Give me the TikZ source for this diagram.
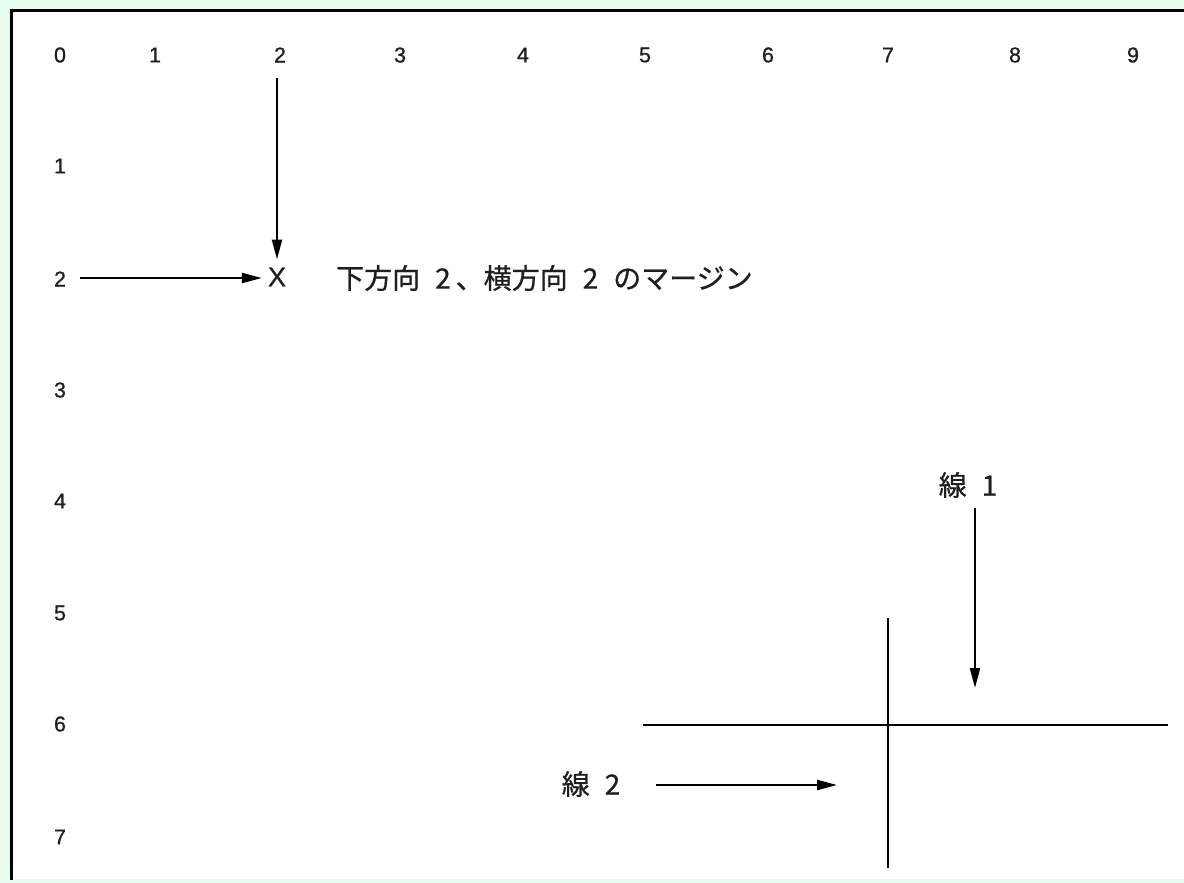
\documentclass[tikz,border=0pt]{standalone}
\usepackage{fontspec}
\setmainfont{Liberation Sans}
\newfontfamily\lblfont[FakeBold=0.8]{Liberation Sans}
\newfontfamily\jp[FakeBold=0.7]{Noto Sans CJK JP}
\usetikzlibrary{arrows.meta}
\definecolor{bggreen}{HTML}{E6FBEE}
\tikzset{
  lbl/.style={font=\lblfont\fontsize{21.5}{21.5}\selectfont, inner sep=0pt, text=black!88},
  jtxt/.style={font=\jp\fontsize{28}{28}\selectfont, inner sep=0pt, text=black!88},
  arr/.style={line width=2.3pt, -{Triangle[length=20pt,width=10pt]}},
  ln/.style={line width=2.3pt},
}
\newcommand{\gp}{\hspace{15pt}}
\begin{document}
\begin{tikzpicture}[x=1pt,y=-1pt]
\useasboundingbox (0,0) rectangle (1184,883);
\fill[bggreen] (0,0) rectangle (1184,883);
\fill[white] (11,11) rectangle (1184,879);
\draw[line width=3pt] (11,880) -- (11,11) -- (1184,11);
% column labels
\foreach \t/\x in {0/60,1/155,2/280,3/400,4/523,5/645,6/768,7/888,8/1015,9/1133}
  \node[lbl] (c\t) at (\x,55) {\t};
% row labels
\foreach \t/\y in {1/166,2/279,3/390,4/501,5/613,6/724,7/837}
  \node[lbl] (r\t) at (60,\y) {\t};
% X point
\node[lbl, font=\lblfont\fontsize{27}{27}\selectfont] (X) at (277,277) {X};
\coordinate (vtop) at (277,78);
\coordinate (hleft) at (80,278);
\draw[arr] (vtop) -- ([yshift=8pt]X.north);
\draw[arr] (hleft) -- ([xshift=-6pt]X.west|-hleft);
\node[jtxt, anchor=west] (margin) at (336,278) {下方向\gp2\hspace{5pt}、横方向\gp2\gp のマージン};
% lines
\coordinate (v1) at (888,618);
\coordinate (v2) at (888,868);
\coordinate (h1) at (643,725);
\coordinate (h2) at (1168,725);
\draw[ln] (v1) -- (v2);
\draw[ln] (h1) -- (h2);
\node[jtxt] (l1) at (968,485) {線\gp1};
\node[jtxt] (l2) at (591,784) {線\gp2};
\coordinate (a1s) at (975,508);
\coordinate (a1e) at (975,688);
\coordinate (a2s) at (656,785);
\coordinate (a2e) at (837,785);
\draw[arr] (a1s) -- (a1e);
\draw[arr] (a2s) -- (a2e);
\end{tikzpicture}
\end{document}
